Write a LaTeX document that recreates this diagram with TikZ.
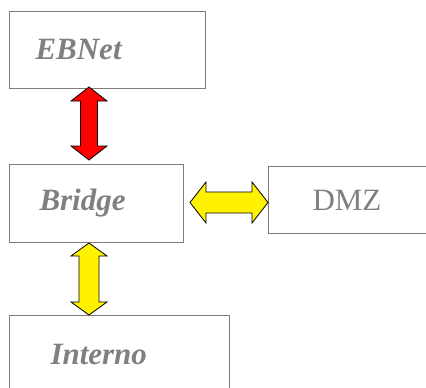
\documentclass[tikz,border=0pt]{standalone}
\usepackage{fontspec}
\setmainfont{Liberation Serif}
\usetikzlibrary{calc}
\definecolor{frame}{RGB}{128,124,120}
\definecolor{ink}{RGB}{128,128,128}
\tikzset{
  box/.style={rectangle, draw=frame, line width=1pt, anchor=north west, text=ink,
              align=left, font=\fontsize{31}{36}\selectfont\bfseries\itshape},
  plain/.style={font=\fontsize{31}{36}\selectfont},
  % fat double arrow: #1 half head width, #2 half shaft width, #3 head length
  fat/.style n args={3}{draw=black, line width=0.8pt, to path={
    -- ($(\tikztostart)!#3!(\tikztotarget)!#1!90:(\tikztotarget)$)
    -- ($(\tikztostart)!#3!(\tikztotarget)!#2!90:(\tikztotarget)$)
    -- ($(\tikztotarget)!#3!(\tikztostart)!#2!270:(\tikztostart)$)
    -- ($(\tikztotarget)!#3!(\tikztostart)!#1!270:(\tikztostart)$)
    -- (\tikztotarget)
    -- ($(\tikztotarget)!#3!(\tikztostart)!#1!90:(\tikztostart)$)
    -- ($(\tikztotarget)!#3!(\tikztostart)!#2!90:(\tikztostart)$)
    -- ($(\tikztostart)!#3!(\tikztotarget)!#2!270:(\tikztotarget)$)
    -- ($(\tikztostart)!#3!(\tikztotarget)!#1!270:(\tikztotarget)$)
    -- cycle}}
}

\begin{document}
\begin{tikzpicture}[x=1pt,y=-1pt]
  \clip (0,0) rectangle (426,388);

  % ---- boxes ----
  \node[box, inner xsep=26pt, text width=144pt, minimum height=77pt] (ebnet) at (9,11) {EBNet};
  \node[box, inner xsep=30pt, text width=114pt, minimum height=78pt] (bridge) at (9,164) {Bridge};
  \node[box, inner xsep=41pt, text width=138pt, minimum height=77pt] (interno) at (9,315) {Interno};
  \node[box, plain, inner xsep=44pt, text width=74pt, minimum height=67pt] (dmz) at (268,166) {DMZ};

  % ---- arrow ends ----
  \coordinate (spine) at (89,0);
  \coordinate (ebnet-out) at ([yshift=2pt]ebnet.south -| spine);
  \coordinate (bridge-top) at ([yshift=4pt]bridge.north -| spine);
  \coordinate (bridge-bot) at (bridge.south -| spine);
  \coordinate (interno-in) at (interno.north -| spine);
  \coordinate (bridge-out) at ([xshift=6pt,yshift=1pt]bridge.east);
  \coordinate (dmz-in) at (dmz.west |- bridge-out);

  % ---- links ----
  \draw[fat={18pt}{8.5pt}{14pt}, fill=red] (ebnet-out) to (bridge-top);
  \draw[fat={18pt}{10pt}{13pt}, fill=yellow] (bridge-bot) to (interno-in);
  \draw[fat={20.5pt}{10.5pt}{16pt}, fill=yellow] (bridge-out) to (dmz-in);
\end{tikzpicture}
\end{document}
